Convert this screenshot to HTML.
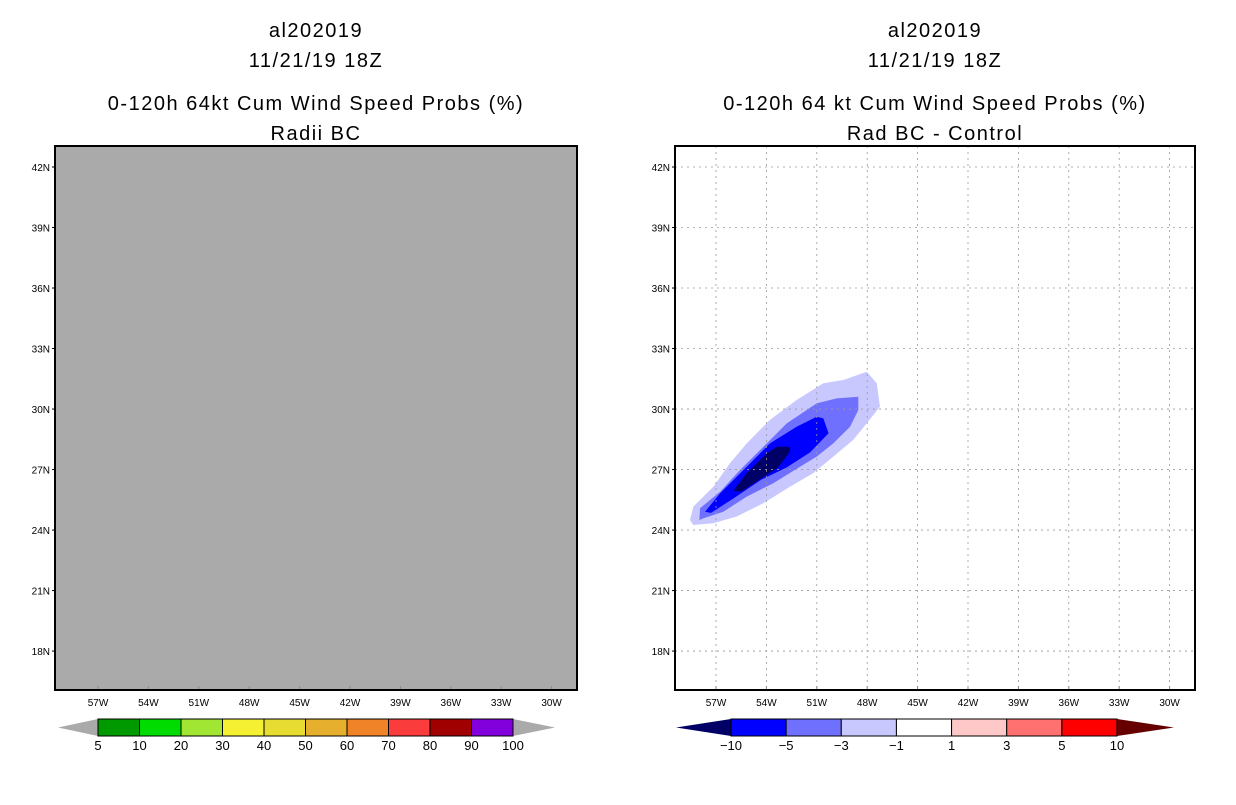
<!DOCTYPE html>
<html><head><meta charset="utf-8"><style>
body{margin:0;background:#fff;width:1236px;height:800px;overflow:hidden}
svg text{font-family:"Liberation Sans",sans-serif}
</style></head><body>
<svg id="s" width="1236" height="800"></svg>
<script>
const lonTicks=[-57,-54,-51,-48,-45,-42,-39,-36,-33,-30];
const latTicks=[18,21,24,27,30,33,36,39,42];
const leftLevels=["5","10","20","30","40","50","60","70","80","90","100"];
const leftColors=["#009a00","#00dc00","#a0e632","#f5f032","#e6dc32","#e6af2d","#f08228","#fa3c3c","#a00000","#8200dc"];
const rightLevels=["-10","-5","-3","-1","1","3","5","10"];
const rightColors=["#0000ff","#7070ff","#c8c8ff","#ffffff","#ffc8c8","#ff7070","#ff0000"];
const contourM1=[[-58.55,24.5],[-58.35,25.16],[-57.16,26.15],[-56.17,27.31],[-55.17,28.3],[-53.79,29.46],[-52.2,30.45],[-50.61,31.28],[-49.42,31.44],[-48.03,31.85],[-47.43,31.28],[-47.24,30.12],[-48.03,29.29],[-48.83,28.47],[-50.02,27.64],[-51.21,26.82],[-52.6,26.15],[-54.18,25.33],[-55.77,24.67],[-57.16,24.34],[-58.35,24.25]];
const contourM3=[[-57.99,24.5],[-57.95,25.08],[-56.76,25.9],[-55.57,26.98],[-54.18,28.13],[-52.79,29.29],[-51.01,30.28],[-49.82,30.53],[-48.53,30.61],[-48.53,29.95],[-49.02,29.12],[-50.02,28.3],[-51.01,27.64],[-52.0,27.14],[-53.59,26.32],[-55.17,25.66],[-56.56,24.91],[-57.76,24.58]];
const contourM5=[[-57.65,24.91],[-56.76,25.82],[-55.17,27.14],[-53.79,28.3],[-52.2,29.12],[-51.01,29.62],[-50.61,29.54],[-50.3,28.8],[-51.4,27.85],[-52.8,27.1],[-54.3,26.5],[-55.9,25.6],[-57.3,24.85]];
const contourM10=[[-55.97,25.96],[-55.17,26.82],[-53.98,27.81],[-53.39,28.13],[-52.6,28.13],[-52.6,27.88],[-53.3,27.1],[-54.6,26.4],[-55.5,25.9]];

const svg=document.getElementById('s');const NS='http://www.w3.org/2000/svg';
function el(t,a,p){const e=document.createElementNS(NS,t);for(const k in a)e.setAttribute(k,a[k]);(p||svg).appendChild(e);return e;}
function txt(x,y,s,size,anchor,p){const e=el('text',{x:x,y:y,'font-size':size,'text-anchor':anchor||'middle',fill:'#000'},p);e.textContent=s;return e;}
const Y0=146,Y1=690;
function xs(x0,lon){return x0+(lon+57)*16.8;}
function ys(lat){return 167+(42-lat)*20.17;}

function panel(px0,px1,x57,left,titles,name){
  const g=el('g',{});
  
  
  const cx=(px0+px1)/2;
  titles.forEach((t,i)=>{const e=txt(cx,[37,67,110,140][i],t,20,'middle',g);e.setAttribute('letter-spacing','1.5');
    
    });
  const bg=el('rect',{x:px0,y:Y0,width:px1-px0,height:Y1-Y0,fill:left?'#aaaaaa':'#fff'},g);
  
  
  if(!left){
    [[contourM1,'#c8c8ff'],[contourM3,'#7070ff'],[contourM5,'#0000ff'],[contourM10,'#000066']].forEach((c,i)=>{
      const p=el('polygon',{points:c[0].map(q=>xs(x57,q[0])+','+ys(q[1])).join(' '),fill:c[1]},g);
      
      });
    lonTicks.forEach(l=>{const ln=el('line',{x1:xs(x57,l),x2:xs(x57,l),y1:Y0,y2:Y1,stroke:'#999','stroke-width':0.8,'stroke-dasharray':'2,4'},g);
      });
    latTicks.forEach(l=>{const ln=el('line',{x1:px0,x2:px1,y1:ys(l),y2:ys(l),stroke:'#999','stroke-width':0.8,'stroke-dasharray':'2,4'},g);
      });
  }
  lonTicks.forEach(l=>{const x=xs(x57,l);el('line',{x1:x,x2:x,y1:Y1-4,y2:Y1,stroke:'#888'},g);
    const t=txt(x,706,Math.abs(l)+'W',10,'middle',g);});
  latTicks.forEach(l=>{const y=ys(l);el('line',{x1:px0-3,x2:px0,y1:y,y2:y,stroke:'#000'},g);
    const t=txt(px0-5,y+4,l+'N',10,'end',g);});
  const fr=el('rect',{x:px0,y:Y0,width:px1-px0,height:Y1-Y0,fill:'none',stroke:'#000','stroke-width':2},g);
  
}
panel(55,577,98,true,['al202019','11/21/19 18Z','0-120h 64kt Cum Wind Speed Probs (%)','Radii BC'],'left-panel');
panel(675,1195,716,false,['al202019','11/21/19 18Z','0-120h 64 kt Cum Wind Speed Probs (%)','Rad BC - Control'],'right-panel');

function colorbar(x0,x1,tipL,tipR,cols,labs,lc,rc,name){
  const g=el('g',{});
  
  
  const y0=719,y1=736,w=(x1-x0)/cols.length;
  el('polygon',{points:`${tipL},${(y0+y1)/2} ${x0},${y0} ${x0},${y1}`,fill:lc},g);
  el('polygon',{points:`${tipR},${(y0+y1)/2} ${x1},${y0} ${x1},${y1}`,fill:rc},g);
  cols.forEach((c,i)=>{const r=el('rect',{x:x0+i*w,y:y0,width:w,height:y1-y0,fill:c,stroke:'#000','stroke-width':1},g);
    });
  labs.forEach((l,i)=>{const t=txt(x0+i*w,750,l.replace('-','\u2212'),13,'middle',g);
    });
}
colorbar(98,513,58,555,leftColors,leftLevels,'#aaaaaa','#aaaaaa','left-colorbar');
colorbar(731,1117,676,1174,rightColors,rightLevels,'#000066','#660000','right-colorbar');
</script>
</body></html>
